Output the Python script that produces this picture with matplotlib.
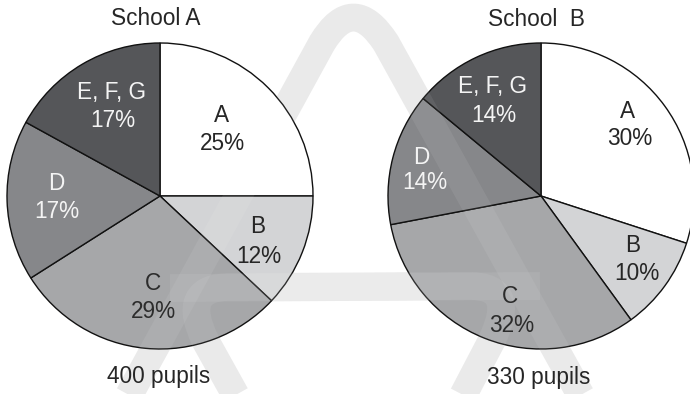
import matplotlib
matplotlib.use("Agg")
import matplotlib.pyplot as plt
from matplotlib.path import Path
from matplotlib.patches import PathPatch

plt.rcParams["font.family"] = ["Liberation Sans", "DejaVu Sans"]

# ---- data ----
categories = ["A", "B", "C", "D", "E, F, G"]
school_a_pct = [25, 12, 29, 17, 17]
school_b_pct = [30, 10, 32, 14, 14]
school_titles = ["School A", "School  B"]
pupil_counts = [400, 330]

# ---- styling ----
slice_colors = ["#ffffff", "#d3d4d6", "#a6a7a9", "#86878a", "#555659"]
label_colors = ["#262626", "#262626", "#2c2c2c", "#f4f4f4", "#f4f4f4"]
FONT_PT = 16.3

# ---- layout (pixel coordinates, origin at top-left) ----
W, H = 690, 394
centers = [(160, 196), (541, 196)]
radius = 153
title_pos = [(156, 25), (537, 26)]
pupils_pos = [(159, 383), (539, 384)]
# (x of name, baseline of name, x of percent, baseline of percent)
label_pos = [
    [(222, 122, 222, 150), (258, 233, 259, 263), (153, 290, 153, 318),
     (56, 190, 57, 218), (112, 99, 113, 127)],
    [(628, 118, 630, 145), (633, 252, 637, 280), (510, 303, 512, 332),
     (421, 164, 425, 189), (493, 93, 494, 122)],
]


def fy(y):
    return H - y


fig = plt.figure(figsize=(W / 100, H / 100), dpi=100)
ax = fig.add_axes([0, 0, 1, 1])


# background logo strokes
def logo_paths():
    paths = []
    # rounded triangle outline
    verts = [(110, 430), (322, 43), (353, -8), (386, 43), (600, 430)]
    codes = [Path.MOVETO, Path.LINETO, Path.CURVE3, Path.CURVE3, Path.LINETO]
    paths.append(Path([(x, fy(y)) for x, y in verts], codes))
    # looped crossbar
    verts = [(255, 430), (205, 340), (180, 288), (228, 287), (470, 286),
             (518, 286), (492, 340), (445, 430)]
    codes = [Path.MOVETO, Path.LINETO, Path.CURVE3, Path.CURVE3, Path.LINETO,
             Path.CURVE3, Path.CURVE3, Path.LINETO]
    paths.append(Path([(x, fy(y)) for x, y in verts], codes))
    verts = [(170, 288), (540, 286)]
    paths.append(Path([(x, fy(y)) for x, y in verts], [Path.MOVETO, Path.LINETO]))
    return paths


for p in logo_paths():
    ax.add_patch(PathPatch(p, facecolor="none", edgecolor="#e9e9e9",
                           linewidth=20, capstyle="butt", joinstyle="round",
                           zorder=0))

for i, values in enumerate([school_a_pct, school_b_pct]):
    cx, cy = centers[i]
    ax.pie(values, colors=slice_colors, startangle=90, counterclock=False,
           center=(cx, fy(cy)), radius=radius, frame=True,
           wedgeprops=dict(edgecolor="#111111", linewidth=1.0, zorder=2))
    ax.text(title_pos[i][0], fy(title_pos[i][1]), school_titles[i],
            ha="center", va="baseline", fontsize=FONT_PT, color="#262626")
    ax.text(pupils_pos[i][0], fy(pupils_pos[i][1]), f"{pupil_counts[i]} pupils",
            ha="center", va="baseline", fontsize=FONT_PT, color="#262626",
            zorder=5)
    for j, (cat, v) in enumerate(zip(categories, values)):
        x1, y1, x2, y2 = label_pos[i][j]
        ax.text(x1, fy(y1), cat, ha="center", va="baseline",
                fontsize=FONT_PT, color=label_colors[j], zorder=5)
        ax.text(x2, fy(y2), f"{v}%", ha="center", va="baseline",
                fontsize=FONT_PT, color=label_colors[j], zorder=5)

# faint sheen of the logo over the wedges
for p in logo_paths():
    ax.add_patch(PathPatch(p, facecolor="none", edgecolor="white", alpha=0.07,
                           linewidth=20, capstyle="butt", joinstyle="round",
                           zorder=3))

ax.set_xlim(0, W)
ax.set_ylim(0, H)
ax.set_aspect("equal", adjustable="box")
ax.axis("off")

fig.savefig("out.png", dpi=100, facecolor="white")
